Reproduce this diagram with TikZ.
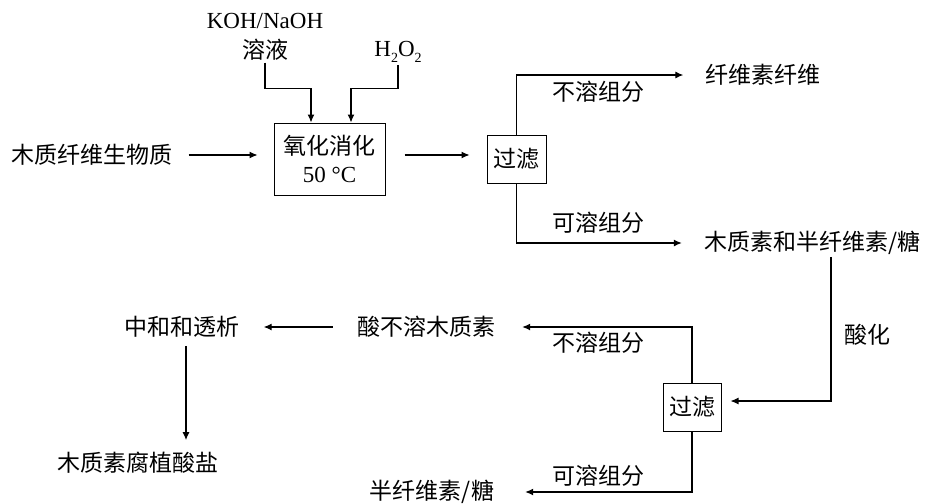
\documentclass[tikz,border=0pt]{standalone}
\usepackage{fontspec}
\setmainfont{Liberation Serif}
\newfontfamily\cjk{Noto Sans CJK SC}
\usetikzlibrary{arrows.meta,calc}
\newcommand{\lowsub}[1]{\raisebox{-6pt}{\fontsize{14}{14}\selectfont #1}}
\tikzset{
  txt/.style={font=\cjk\fontsize{23}{28}\selectfont, inner sep=2pt},
  ltxt/.style={font=\fontsize{23}{30}\selectfont, inner sep=2pt, align=center},
  pbox/.style={draw, line width=1pt, align=center, inner sep=0pt,
               font=\fontsize{23}{28}\selectfont},
  flow/.style={-{Latex[length=8pt,width=7pt]}, line width=1.1pt},
}

\begin{document}
\begin{tikzpicture}[x=1pt, y=-1pt]
  \useasboundingbox (0,0) rectangle (928,503);
  % upper row
  \node[txt] (biomass) at (92,155) {木质纤维生物质};
  \node[pbox, minimum width=111pt, minimum height=72pt] (digest) at (329.5,159)
       {{\cjk 氧化消化}\\50~°C};
  \node[ltxt] (koh) at (265,37) {KOH/NaOH\\{\cjk 溶液}};
  \node[ltxt] (hoo) at (398,52) {H\lowsub{2}O\lowsub{2}};
  \node[pbox, minimum width=59pt, minimum height=48pt] (filterA) at (516.5,159) {\cjk 过滤};
  \node[txt] (cellulose) at (763,75) {纤维素纤维};
  \node[txt] (lignohemi) at (812,243) {木质素和半纤维素/糖};
  \node[txt] at (598,92) {不溶组分};
  \node[txt] at (598,223) {可溶组分};
  % lower row
  \node[pbox, minimum width=58pt, minimum height=48pt] (filterB) at (692,407) {\cjk 过滤};
  \node[txt] (insol) at (426,327) {酸不溶木质素};
  \node[txt] (hemi) at (432,492) {半纤维素/糖};
  \node[txt] (neutral) at (182,327) {中和和透析};
  \node[txt] (humate) at (138,463) {木质素腐植酸盐};
  \node[txt] at (867,335) {酸化};
  \node[txt] at (598,343) {不溶组分};
  \node[txt] at (598,476) {可溶组分};

  \draw[flow] ($(biomass.east)+(14,0)$) -- ($(digest.west |- biomass.east)+(-16,0)$);
  \draw[flow] (koh.south) |- ($(digest.north)+(-18.5,-34)$) -- ($(digest.north)+(-18.5,0)$);
  \draw[flow] (hoo.south) |- ($(digest.north)+(21.5,-34)$) -- ($(digest.north)+(21.5,0)$);
  \draw[flow] ($(digest.east |- biomass.east)+(19,0)$) -- ($(filterA.west |- biomass.east)+(-17,0)$);
  \draw[flow] (filterA.north) |- ([xshift=-20pt]cellulose.west);
  \draw[flow] (filterA.south) |- ([xshift=-20pt]lignohemi.west);
  \draw[flow] ([xshift=19pt]lignohemi.south) |- ([xshift=9pt,yshift=6pt]filterB.east);
  \draw[flow] (filterB.north) |- ([xshift=25pt]insol.east);
  \draw[flow] (filterB.south) |- ([xshift=29pt]hemi.east);
  \draw[flow] ($(insol.west)+(-22,0)$) -- ($(neutral.east |- insol.west)+(22,0)$);
  \coordinate (nbot) at ([xshift=4pt,yshift=-6pt]neutral.south);
  \draw[flow, shorten >=10pt] (nbot) -- (nbot |- humate.north);
\end{tikzpicture}
\end{document}
